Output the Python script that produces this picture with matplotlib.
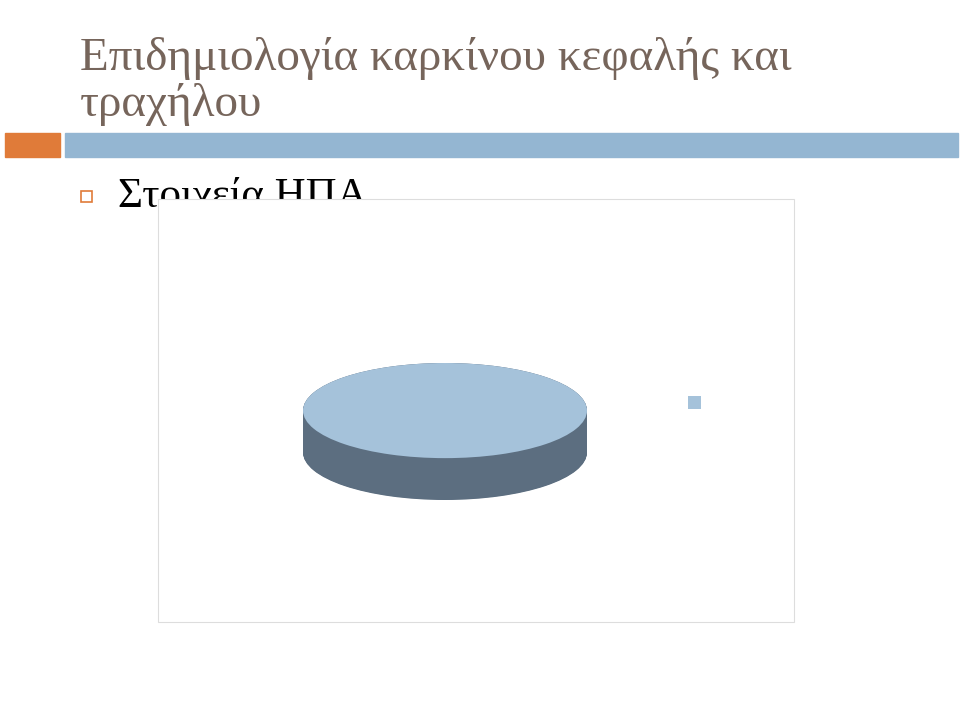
import matplotlib
matplotlib.use("Agg")
import matplotlib.pyplot as plt
from matplotlib.patches import Rectangle
import numpy as np

# slide texts
title_lines = ["Επιδημιολογία καρκίνου κεφαλής και", "τραχήλου"]
bullet_text = "Στοιχεία ΗΠΑ"

# chart data: a single unlabeled category
categories = [""]
values = [100]

top_color = "#A5C2DA"
side_color = "#5C6E80"

W, H = 960, 716
fig = plt.figure(figsize=(W / 100, H / 100), dpi=100)


def fx(px):
    return px / W


def fy(py):
    return 1 - py / H


serif = ["Liberation Serif", "DejaVu Serif"]

# title
fig.text(fx(80), fy(70), title_lines[0], family=serif, fontsize=33.9,
         color="#76655B", va="baseline", ha="left")
fig.text(fx(80), fy(116), title_lines[1], family=serif, fontsize=33.9,
         color="#76655B", va="baseline", ha="left")

# decorative bars under the title
fig.patches.append(Rectangle((fx(5), fy(157)), fx(55), (157 - 133) / H,
                             transform=fig.transFigure, color="#E07B39", zorder=1))
fig.patches.append(Rectangle((fx(65), fy(157)), fx(893), (157 - 133) / H,
                             transform=fig.transFigure, color="#94B6D2", zorder=1))

# bullet
fig.patches.append(Rectangle((fx(81), fy(202)), fx(11), 11 / H,
                             transform=fig.transFigure, facecolor="none",
                             edgecolor="#E07B39", linewidth=1.2, zorder=2))
fig.text(fx(118), fy(207), bullet_text, family=serif, fontsize=31,
         color="black", va="baseline", ha="left", zorder=3)

# chart frame covering the bullet text
fig.patches.append(Rectangle((fx(158), fy(622)), fx(636), (622 - 199) / H,
                             transform=fig.transFigure, facecolor="white",
                             edgecolor="#DDDDDD", linewidth=0.8, zorder=5))

# 3D-looking pie
depth = 0.88
ax = fig.add_axes([fx(303), fy(500), fx(284), (500 - 363) / H])
ax.set_zorder(10)
ax.patch.set_visible(False)
for off in np.linspace(-depth, 0, 80):
    ax.pie(values, colors=[side_color], center=(0, off), radius=1,
           startangle=90, wedgeprops=dict(linewidth=0))
wedges, _ = ax.pie(values, colors=[top_color], center=(0, 0), radius=1,
                   startangle=90, wedgeprops=dict(linewidth=0))
ax.set_aspect("auto")
ax.set_xlim(-1, 1)
ax.set_ylim(-1 - depth, 1)
ax.axis("off")

ax.legend(wedges, categories, loc="center left",
          bbox_to_anchor=(fx(688), fy(403.5)), bbox_transform=fig.transFigure,
          frameon=False, handlelength=0.67, handleheight=0.67, fontsize=14,
          borderpad=0, borderaxespad=0)

fig.savefig("out.png", dpi=100)
